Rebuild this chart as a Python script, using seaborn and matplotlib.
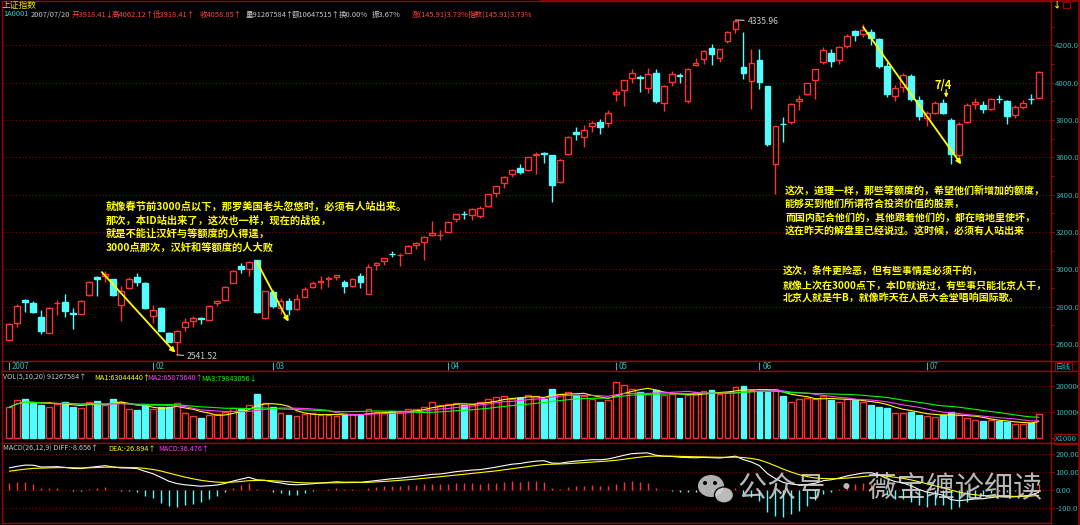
import numpy as np
import pandas as pd
import matplotlib
matplotlib.use("Agg")
import matplotlib.pyplot as plt
from matplotlib.patches import Rectangle, Ellipse
from matplotlib.lines import Line2D
import seaborn as sns

# ---------------- data ----------------
month_labels = ["2007", "02", "03", "04", "05", "06", "07"]
month_start = [0, 18, 33, 55, 76, 94, 115]

opens = [2622, 2712, 2838, 2820, 2744, 2660, 2818, 2827, 2766, 2762,
         2860, 2960, 2962, 2946, 2811, 2901, 2960, 2928, 2748, 2793,
         2658, 2613, 2689, 2725, 2740, 2730, 2820, 2838, 2928, 3018,
         3004, 3050, 2739, 2878, 2795, 2829, 2786, 2854, 2907, 2934,
         2950, 2961, 2934, 2911, 2965, 2870, 3025, 3047, 3083, 3075,
         3090, 3129, 3144, 3185, 3183, 3201, 3269, 3297, 3290, 3287,
         3337, 3407, 3460, 3509, 3541, 3532, 3612, 3621, 3612, 3466,
         3618, 3736, 3709, 3770, 3791, 3786, 3939, 3961, 4023, 4029,
         3971, 4054, 3893, 4004, 4039, 3902, 4093, 4125, 4188, 4132,
         4223, 4289, 4086, 4009, 4121, 3982, 3566, 3781, 3789, 3900,
         3939, 4012, 4111, 4159, 4120, 4195, 4275, 4260, 4270, 4235,
         4090, 3930, 3975, 4035, 3905, 3810, 3840, 3890, 3800, 3610,
         3790, 3885, 3880, 3860, 3915, 3900, 3825, 3870, 3915, 3918.41]

highs = [2712, 2812, 2842, 2828, 2780, 2797, 2838, 2870, 2793, 2835,
         2935, 2963, 2990, 2948, 2910, 2960, 2982, 2930, 2811, 2800,
         2665, 2675, 2740, 2752, 2745, 2810, 2838, 2912, 2998, 3032,
         3045, 3052, 2885, 2890, 2845, 2845, 2865, 2905, 2935, 2965,
         2965, 2970, 2940, 2955, 2979, 3030, 3040, 3060, 3100, 3087,
         3130, 3147, 3180, 3260, 3212, 3258, 3297, 3313, 3331, 3340,
         3404, 3447, 3500, 3535, 3564, 3602, 3627, 3630, 3615, 3590,
         3715, 3764, 3771, 3795, 3804, 3852, 3964, 4015, 4071, 4039,
         4080, 4071, 3985, 4062, 4054, 4078, 4134, 4173, 4209, 4182,
         4277, 4335.96, 4273, 4179, 4182, 3982, 3770, 3818, 3890, 3932,
         3998, 4075, 4191, 4179, 4195, 4260, 4285, 4312, 4290, 4240,
         4110, 3990, 4050, 4045, 3930, 3850, 3900, 3912, 3810, 3790,
         3890, 3920, 3900, 3920, 3935, 3905, 3880, 3905, 3940, 4062.12]

lows = [2615, 2690, 2770, 2765, 2655, 2656, 2757, 2745, 2680, 2758,
        2856, 2856, 2930, 2855, 2721, 2895, 2910, 2785, 2712, 2668,
        2610, 2541.52, 2672, 2690, 2705, 2728, 2802, 2829, 2925, 2982,
        2964, 2765, 2735, 2790, 2760, 2757, 2784, 2850, 2900, 2897,
        2907, 2943, 2872, 2905, 2902, 2865, 2997, 3022, 3065, 3016,
        3085, 3108, 3052, 3180, 3158, 3198, 3255, 3270, 3265, 3276,
        3335, 3390, 3435, 3495, 3509, 3528, 3513, 3570, 3362, 3462,
        3615, 3693, 3657, 3736, 3723, 3764, 3902, 3875, 3996, 3950,
        3946, 3893, 3848, 3982, 4000, 3893, 4089, 4098, 4093, 4111,
        4214, 4264, 4018, 3861, 3968, 3661, 3404, 3682, 3777, 3852,
        3932, 3911, 4098, 4086, 4100, 4185, 4225, 4245, 4200, 4080,
        3925, 3900, 3950, 3900, 3800, 3770, 3830, 3830, 3563, 3600,
        3785, 3860, 3840, 3855, 3890, 3780, 3810, 3860, 3886, 3918.41]

closes = [2707, 2806, 2826, 2770, 2668, 2794, 2821, 2779, 2760, 2831,
          2933, 2950, 2977, 2860, 2883, 2946, 2933, 2790, 2784, 2672,
          2613, 2672, 2716, 2737, 2733, 2806, 2831, 2906, 2993, 3000,
          3040, 2772, 2883, 2802, 2829, 2786, 2843, 2897, 2929, 2938,
          2956, 2968, 2911, 2950, 2932, 3015, 3036, 3058, 3080, 3078,
          3126, 3140, 3174, 3197, 3186, 3255, 3294, 3294, 3322, 3326,
          3401, 3444, 3496, 3532, 3523, 3600, 3618, 3618, 3453, 3587,
          3711, 3723, 3745, 3784, 3762, 3839, 3950, 4012, 4050, 4025,
          4045, 3900, 3982, 4048, 4034, 4075, 4107, 4170, 4152, 4179,
          4271, 4330, 4054, 4107, 4004, 3670, 3766, 3777, 3887, 3914,
          3996, 4071, 4175, 4116, 4189, 4252, 4255, 4280, 4240, 4091,
          3941, 3974, 4040, 3914, 3820, 3836, 3893, 3836, 3616, 3781,
          3883, 3896, 3857, 3914, 3914, 3821, 3870, 3890, 3912, 4058.85]

# volume in units of 1000 (axis marked X1000)
volumes = [118000, 145000, 150000, 135000, 128000, 120000, 132000, 140000, 118000, 115000,
           138000, 142000, 125000, 150000, 138000, 110000, 108000, 125000, 110000, 118000,
           120000, 135000, 95000, 85000, 75000, 90000, 92000, 100000, 115000, 110000,
           125000, 170000, 135000, 120000, 95000, 90000, 85000, 92000, 95000, 88000,
           90000, 85000, 88000, 92000, 90000, 110000, 100000, 95000, 105000, 100000,
           110000, 112000, 120000, 140000, 125000, 130000, 135000, 128000, 130000, 140000,
           150000, 158000, 162000, 150000, 155000, 165000, 160000, 150000, 190000, 170000,
           175000, 165000, 160000, 150000, 140000, 145000, 215000, 205000, 190000, 175000,
           170000, 185000, 165000, 170000, 155000, 165000, 175000, 180000, 185000, 170000,
           175000, 195000, 200000, 185000, 175000, 175000, 190000, 160000, 140000, 150000,
           155000, 150000, 160000, 145000, 140000, 150000, 145000, 140000, 125000, 120000,
           115000, 95000, 98000, 100000, 90000, 85000, 80000, 88000, 100000, 87100,
           75000, 70000, 66000, 68000, 64535, 60000, 52000, 54000, 57948, 91268]

price_ticks = [2600, 2800, 3000, 3200, 3400, 3600, 3800, 4000, 4200]
price_minor = [2700, 2900, 3100, 3300, 3500, 3700, 3900, 4100, 4300]
vol_ticks = [0, 100000, 200000]
vol_tick_labels = ["X1000", "100000", "200000"]
macd_ticks = [-100, 0, 100, 200]
macd_tick_labels = ["-100.0", "0.00", "100.00", "200.00"]

# EMA state before the first shown day
ema12_seed, ema26_seed, dea_seed = 2560.0, 2440.0, 100.0

title = "上证指数"
header_items = [(3, "1A0001", "#3cc8c8"), (31, "2007/07/20", "#c8c8c8"),
                (72, "开3918.41↓", "#ff4646"), (112, "高4062.12↑", "#ff4646"),
                (153, "低3918.41↑", "#ff4646"), (200, "收4058.85↑", "#ff4646"),
                (246, "量91267584↑", "#c8c8c8"), (292, "额10647515↑", "#c8c8c8"),
                (339, "换0.00%", "#c8c8c8"), (372, "振3.67%", "#c8c8c8"),
                (412, "涨(145.91)3.73%", "#ff4646"), (468, "指数(145.91)3.73%", "#ff4646")]
vol_header = [(3, "VOL(5,10,20) 91267584↑", "#c8c8c8"), (94, "MA1:63044440↑", "#ffff00"),
              (147, "MA2:65875640↑", "#ff40ff"), (201, "MA3:79843056↓", "#00ff00")]
macd_header = [(3, "MACD(26,12,9) DIFF:-8.656↑", "#c8c8c8"), (108, "DEA:-26.894↑", "#ffff00"),
               (158, "MACD:36.476↑", "#ff40ff")]

note1 = ["就像春节前3000点以下，那罗美国老头忽悠时，必须有人站出来。",
         "那次，本ID站出来了，这次也一样，现在的战役，",
         "就是不能让汉奸与等额度的人得逞，",
         "3000点那次，汉奸和等额度的人大败"]
note2 = ["这次，道理一样，那些等额度的，希望他们新增加的额度，",
         "能够买到他们所谓符合投资价值的股票，",
         "而国内配合他们的，其他跟着他们的，都在暗地里使坏，",
         "这在昨天的解盘里已经说过。这时候，必须有人站出来"]
note3 = ["这次，条件更险恶，但有些事情是必须干的，",
         "就像上次在3000点下，本ID就说过，有些事只能北京人干，",
         "北京人就是牛B，就像昨天在人民大会堂唱响国际歌。"]
watermark = "公众号 · 薇宝缠论细读"

# ---------------- style ----------------
sns.set_style("dark", {"axes.facecolor": "black", "figure.facecolor": "black"})
plt.rcParams['font.family'] = ['Noto Sans CJK SC', 'DejaVu Sans']
plt.rcParams['axes.unicode_minus'] = False

NARROW = ['Liberation Sans Narrow', 'Noto Sans CJK SC', 'DejaVu Sans']

RED = "#ff3232"
CYAN = "#54fcfc"
BORDER = "#a00000"
GRID = "#900000"
TEAL = "#33b5b5"
YEL = "#ffff00"

W, H = 1080, 525
fig = plt.figure(figsize=(W / 100, H / 100), dpi=100)
fig.patch.set_facecolor("black")


def fx(px):
    return px / W


def fy(py):
    return 1 - py / H


def axes_px(x0, y0, x1, y1):
    return fig.add_axes([x0 / W, 1 - y1 / H, (x1 - x0) / W, (y1 - y0) / H])


n = len(closes)
idx = np.arange(n)
o = np.array(opens, float)
h = np.array(highs, float)
l = np.array(lows, float)
c = np.array(closes, float)
v = np.array(volumes, float)
up = c >= o

XL, XR = -0.915, 130.54

ax_p = axes_px(2, 1, 1051, 361)
ax_d = axes_px(2, 361, 1051, 371)
ax_v = axes_px(2, 371, 1051, 443)
ax_m = axes_px(2, 443, 1051, 523)


def style(ax, ylim):
    ax.set_facecolor("black")
    ax.set_xlim(XL, XR)
    ax.set_ylim(*ylim)
    ax.set_xticks([])
    ax.grid(False)
    for s in ax.spines.values():
        s.set_color(BORDER)
        s.set_linewidth(1.0)
    ax.yaxis.tick_right()
    ax.tick_params(axis="y", which="both", colors=BORDER, length=2.5, width=0.8,
                   labelcolor=TEAL, labelsize=5.6, pad=0.6)
    ax.set_xlabel("")
    ax.set_ylabel("")


style(ax_p, (2508.6, 4437.8))
style(ax_d, (0, 1))
style(ax_v, (-19231, 257692))
style(ax_m, (-183, 261))
ax_d.set_yticks([])

# ---------------- price panel ----------------
ax_p.set_yticks(price_ticks)
ax_p.set_yticklabels([f"{t:.1f}" for t in price_ticks], family=NARROW)
ax_p.set_yticks(price_minor, minor=True)
ax_p.hlines(price_ticks, XL, XR, colors=GRID, linestyles=(0, (1, 2)), lw=0.8, zorder=0)

cols = np.where(up, RED, CYAN)
body_top = np.maximum(o, c)
body_bot = np.minimum(o, c)
ax_p.vlines(idx, body_top, h, colors=cols, lw=1, zorder=2)
ax_p.vlines(idx, l, body_bot, colors=cols, lw=1, zorder=2)
bw = 0.72
ax_p.bar(idx[up], np.maximum(c - o, 0.5)[up], bottom=o[up], width=bw,
         facecolor="black", edgecolor=RED, lw=1, zorder=3)
ax_p.bar(idx[~up], np.maximum(o - c, 0.5)[~up], bottom=c[~up], width=bw,
         facecolor=CYAN, edgecolor=CYAN, lw=1, zorder=3)

# extreme labels
imax = int(np.argmax(h))
imin = int(np.argmin(l))
ax_p.annotate(f"{h[imax]:.2f}", xy=(imax, h[imax]), xytext=(12, -1), textcoords="offset pixels",
              color="#c8c8c8", fontsize=6.2, family=NARROW, va="center", ha="left",
              arrowprops=dict(arrowstyle="-", color="#c8c8c8", lw=0.8, shrinkA=0, shrinkB=0))
ax_p.annotate(f"{l[imin]:.2f}", xy=(imin, l[imin]), xytext=(10, -2), textcoords="offset pixels",
              color="#c8c8c8", fontsize=6.2, family=NARROW, va="center", ha="left",
              arrowprops=dict(arrowstyle="-", color="#c8c8c8", lw=0.8, shrinkA=0, shrinkB=0))

# yellow trend arrows
arrow_lines = [((11.6, 2985), (20.8, 2553)), ((31.0, 3041), (35.0, 2719)), ((107.0, 4298), (119.3, 3562))]
for (x0, y0), (x1, y1) in arrow_lines:
    ax_p.annotate("", xy=(x1, y1), xytext=(x0, y0),
                  arrowprops=dict(arrowstyle="-|>", color=YEL, lw=1.3, mutation_scale=7,
                                  shrinkA=0, shrinkB=0), zorder=5)
ax_p.annotate("", xy=(117.4, 3920), xytext=(117.4, 3962),
              arrowprops=dict(arrowstyle="-|>", color=YEL, lw=0.9, mutation_scale=5, shrinkA=0, shrinkB=0))
ax_p.text(117.0, 3985, "7/4", color=YEL, fontsize=8, fontweight="bold", ha="center", va="center")

# ---------------- date strip ----------------
ax_d.vlines(month_start, 0.1, 0.9, colors=TEAL, lw=0.8)
for ms, lab in zip(month_start, month_labels):
    ax_d.text(ms + 0.35, 0.45, lab, color=TEAL, fontsize=5.8, family=NARROW,
              ha="left", va="center")

# ---------------- volume panel ----------------
ax_v.set_yticks(vol_ticks)
ax_v.set_yticklabels(vol_tick_labels, family=NARROW)
ax_v.hlines(vol_ticks[1:], XL, XR, colors=GRID, linestyles=(0, (1, 2)), lw=0.8, zorder=0)
ax_v.bar(idx[up], v[up], width=bw, facecolor="black", edgecolor=RED, lw=1, zorder=2)
ax_v.bar(idx[~up], v[~up], width=bw, facecolor=CYAN, edgecolor=CYAN, lw=1, zorder=2)
vs = pd.Series(v)
vol_df = pd.DataFrame({"i": idx,
                       "ma5": vs.rolling(5, min_periods=1).mean(),
                       "ma10": vs.rolling(10, min_periods=1).mean(),
                       "ma20": vs.rolling(20, min_periods=1).mean()})
sns.lineplot(data=vol_df, x="i", y="ma5", ax=ax_v, color=YEL, lw=0.8, zorder=4)
sns.lineplot(data=vol_df, x="i", y="ma10", ax=ax_v, color="#ff40ff", lw=0.8, zorder=4)
sns.lineplot(data=vol_df, x="i", y="ma20", ax=ax_v, color="#00ff00", lw=0.8, zorder=4)
ax_v.set_xlabel("")
ax_v.set_ylabel("")
for lab in ax_v.get_yticklabels():
    if lab.get_text() == "X1000":
        lab.set_bbox(dict(facecolor="black", edgecolor=BORDER, lw=0.8, pad=0.6))

# ---------------- MACD panel ----------------
e12, e26, dea = ema12_seed, ema26_seed, dea_seed
diffs, deas = [], []
for price in c:
    e12 += 2 / 13 * (price - e12)
    e26 += 2 / 27 * (price - e26)
    d = e12 - e26
    dea += 2 / 10 * (d - dea)
    diffs.append(d)
    deas.append(dea)
macd_df = pd.DataFrame({"i": idx, "diff": diffs, "dea": deas})
macd_df["hist"] = 2 * (macd_df["diff"] - macd_df["dea"])

ax_m.set_yticks(macd_ticks)
ax_m.set_yticklabels(macd_tick_labels, family=NARROW)
ax_m.hlines(macd_ticks, XL, XR, colors=GRID, linestyles=(0, (1, 2)), lw=0.8, zorder=0)
hist = macd_df["hist"].values
ax_m.vlines(idx, 0, hist, colors=np.where(hist >= 0, RED, CYAN), lw=1, zorder=2)
sns.lineplot(data=macd_df, x="i", y="diff", ax=ax_m, color="#ffffff", lw=0.8, zorder=4)
sns.lineplot(data=macd_df, x="i", y="dea", ax=ax_m, color=YEL, lw=0.8, zorder=4)
ax_m.set_xlabel("")
ax_m.set_ylabel("")

# ---------------- texts ----------------
fig.text(fx(2), fy(5), title, color="#e6e600", fontsize=6.3, va="center", ha="left")
for x, t, col in header_items:
    fig.text(fx(x), fy(14.5), t, color=col, fontsize=5.4, family=NARROW, va="center", ha="left")
for x, t, col in vol_header:
    fig.text(fx(x), fy(378), t, color=col, fontsize=5.2, family=NARROW, va="center", ha="left")
for x, t, col in macd_header:
    fig.text(fx(x), fy(448.5), t, color=col, fontsize=5.2, family=NARROW, va="center", ha="left")

for k, line in enumerate(note1):
    fig.text(fx(106), fy(206.5 + 13.7 * k), line, color=YEL, fontsize=7.4, fontweight="bold",
             va="center", ha="left")
for k, line in enumerate(note2):
    fig.text(fx(785), fy(190.7 + 13.5 * k), line, color=YEL, fontsize=7.2, fontweight="bold",
             va="center", ha="left")
for k, line in enumerate(note3):
    fig.text(fx(783), fy(272 + 13.5 * k), line, color=YEL, fontsize=7.2, fontweight="bold",
             va="center", ha="left")

fig.text(fx(1056), fy(366.5), "日线", color=TEAL, fontsize=5.5, va="center", ha="left",
         bbox=dict(facecolor="black", edgecolor=BORDER, lw=0.8, pad=0.5))

# watermark
fig.text(fx(738), fy(489), watermark, color="#d8d8d8", alpha=0.85, fontsize=21,
         va="center", ha="left")
fig.patches.append(Ellipse((fx(711), fy(486)), 26 / W, 22 / H, transform=fig.transFigure,
                           facecolor="#d0d0d0", alpha=0.85, edgecolor="none"))
fig.patches.append(Ellipse((fx(724), fy(495)), 19 / W, 16 / H, transform=fig.transFigure,
                           facecolor="#d0d0d0", alpha=0.9, edgecolor="black", lw=1))
for ex, ey in [(705, 483), (715, 483)]:
    fig.patches.append(Ellipse((fx(ex), fy(ey)), 4 / W, 4 / H, transform=fig.transFigure,
                               facecolor="black", edgecolor="none"))

# outer borders and corner icons
fig.add_artist(Line2D([fx(540), fx(1078)], [fy(0.8), fy(0.8)], color=BORDER, lw=1.2))
fig.add_artist(Line2D([fx(1078.5), fx(1078.5)], [fy(0), fy(525)], color=BORDER, lw=1.2))
fig.add_artist(Line2D([fx(1051), fx(1078)], [fy(371), fy(371)], color=BORDER, lw=1))
fig.add_artist(Line2D([fx(1051), fx(1078)], [fy(443), fy(443)], color=BORDER, lw=1))
fig.add_artist(Line2D([fx(1051), fx(1078)], [fy(361), fy(361)], color=BORDER, lw=1))
fig.text(fx(1057), fy(4.5), "↓", color=YEL, fontsize=6, ha="center", va="center", fontweight="bold")
fig.patches.append(Rectangle((fx(1063), fy(8)), 7 / W, 6 / H, transform=fig.transFigure,
                             facecolor="none", edgecolor=BORDER, lw=0.8))

fig.savefig("out.png", dpi=100, facecolor="black")
